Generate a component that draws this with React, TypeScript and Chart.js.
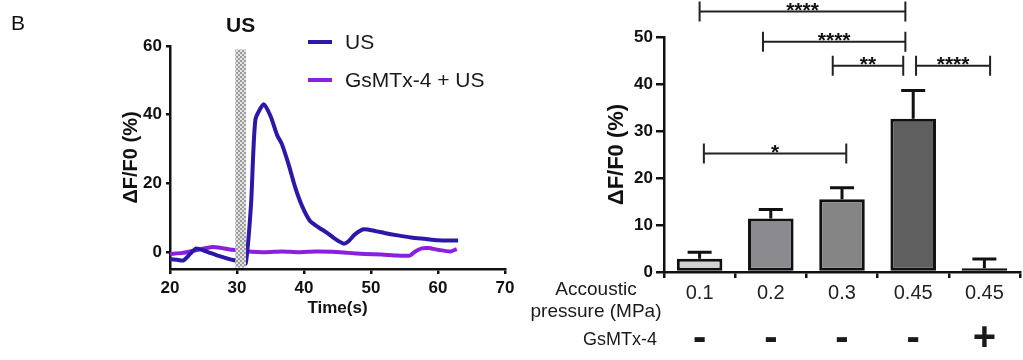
import React, { useEffect, useRef } from 'react';
import { Chart, registerables } from 'chart.js';
Chart.register(...registerables);

const FONT = "'Liberation Sans', Arial, Helvetica, sans-serif";

// ---------- Left panel: time course ----------
const seriesNames = ['US', 'GsMTx-4 + US'];
const seriesColors = ['#2a18a8', '#8a1fe0'];
const timeUS = [20, 21, 22, 23, 23.9, 25, 26, 27, 28, 29, 29.7, 30.5, 31.3, 32.1, 32.75, 34, 35, 36, 36.7, 37.7, 38.7, 39.7, 40.9, 42.2, 43.4, 44.7, 45.9, 46.6, 47.6, 48.9, 50.6, 52, 54, 56, 58, 60, 62, 63];
const valuesUS = [-2.1, -2.3, -2.5, -0.6, 1.0, 0.4, -0.3, -1.0, -1.6, -2.2, -2.5, -2.9, -3.4, 14, 38.6, 43, 39.6, 34, 31.4, 25.5, 18.7, 13.4, 9, 7.1, 5.6, 3.7, 2.4, 3.0, 5.1, 6.6, 6.1, 5.5, 4.8, 4.2, 3.8, 3.4, 3.3, 3.3];
const timeGs = [20, 21.9, 24, 26.3, 27.5, 29.3, 31.3, 34.2, 36.7, 39.2, 41.7, 44.2, 46.6, 49.1, 51.6, 54.1, 55.8, 56.6, 57.6, 58.6, 60, 61.8, 62.8];
const valuesGs = [-0.6, -0.3, 0.5, 1.4, 1.2, 0.6, 0.2, -0.1, 0.1, -0.1, 0.1, 0.0, -0.3, -0.6, -0.8, -1.1, -1.1, 0.1, 1.0, 1.1, 0.6, 0.1, 0.8];
const timeTicks = [20, 30, 40, 50, 60, 70];
const lineYTicks = [0, 20, 40, 60];
const stimulusX = [29.75, 31.35];
const stimulusY = [-4.6, 59];
const stimulusLabel = 'US';
const panelLetter = 'B';

// ---------- Right panel: bars ----------
const pressureLabels = ['0.1', '0.2', '0.3', '0.45', '0.45'];
const gsmtxFlags = ['-', '-', '-', '-', '+'];
const meanValues = [2.8, 11.4, 15.5, 32.6, 0.8];
const semUpper = [4.2, 13.3, 17.9, 38.6, 2.75];
const barColors = ['#d2d2d2', '#8b8a8f', '#858585', '#5f5f5f', '#1a1a1a'];
const barYTicks = [0, 10, 20, 30, 40, 50];
const bracketFrom = [0, 0.89, 1.87, 3.04, 0.06];
const bracketTo = [2.89, 2.89, 2.86, 4.08, 2.06];
const bracketY = [55.4, 49.0, 43.9, 43.9, 25.2];
const bracketStars = ['****', '****', '**', '****', '*'];

const axisColor = '#111';

function makePattern(ctx: CanvasRenderingContext2D) {
  const c = document.createElement('canvas');
  c.width = 4; c.height = 4;
  const g = c.getContext('2d')!;
  g.fillStyle = '#e2e2e2'; g.fillRect(0, 0, 4, 4);
  g.fillStyle = '#9c9c9c'; g.fillRect(0, 0, 2, 2); g.fillRect(2, 2, 2, 2);
  return ctx.createPattern(c, 'repeat');
}

const stimulusPlugin = {
  id: 'stimulus',
  afterDatasetsDraw(chart: any) {
    const { ctx, scales: { x, y } } = chart;
    const x1 = x.getPixelForValue(stimulusX[0]);
    const x2 = x.getPixelForValue(stimulusX[1]);
    const y1 = y.getPixelForValue(stimulusY[1]);
    const y2 = y.getPixelForValue(stimulusY[0]);
    ctx.save();
    ctx.fillStyle = makePattern(ctx) || '#bbb';
    ctx.fillRect(x1, y1, x2 - x1, y2 - y1);
    ctx.fillStyle = '#111';
    ctx.font = `bold 21px ${FONT}`;
    ctx.textAlign = 'center';
    ctx.textBaseline = 'alphabetic';
    ctx.fillText(stimulusLabel, (x1 + x2) / 2, 32);
    ctx.restore();
  },
  afterDraw(chart: any) {
    const { ctx } = chart;
    ctx.save();
    ctx.fillStyle = '#111';
    ctx.font = `21px ${FONT}`;
    ctx.textAlign = 'left';
    ctx.textBaseline = 'alphabetic';
    ctx.fillText(panelLetter, 11, 30);
    const rows = [42, 80];
    chart.data.datasets.forEach((ds: any, i: number) => {
      ctx.strokeStyle = ds.borderColor;
      ctx.lineWidth = 4;
      ctx.beginPath();
      ctx.moveTo(308, rows[i]);
      ctx.lineTo(332, rows[i]);
      ctx.stroke();
      ctx.fillStyle = '#1a1a1a';
      ctx.font = `21px ${FONT}`;
      ctx.textBaseline = 'middle';
      ctx.fillText(ds.label, 345, rows[i] + 1);
    });
    ctx.restore();
  },
};

const errorBarPlugin = {
  id: 'errorBars',
  afterDatasetsDraw(chart: any) {
    const { ctx, scales: { y } } = chart;
    const meta = chart.getDatasetMeta(0);
    ctx.save();
    ctx.strokeStyle = '#111';
    ctx.lineWidth = 3;
    meta.data.forEach((bar: any, i: number) => {
      const x = bar.x;
      const yTop = y.getPixelForValue(semUpper[i]);
      const yBase = y.getPixelForValue(meanValues[i]);
      ctx.beginPath();
      ctx.moveTo(x, yBase);
      ctx.lineTo(x, yTop);
      ctx.moveTo(x - 12, yTop);
      ctx.lineTo(x + 12, yTop);
      ctx.stroke();
    });
    ctx.restore();
  },
  afterDraw(chart: any) {
    const { ctx, scales: { x, y } } = chart;
    ctx.save();
    ctx.strokeStyle = '#222';
    ctx.lineWidth = 2;
    ctx.fillStyle = '#111';
    ctx.font = `bold 21px ${FONT}`;
    ctx.textAlign = 'center';
    ctx.textBaseline = 'alphabetic';
    bracketFrom.forEach((f, i) => {
      const x1 = x.getPixelForValue(f);
      const x2 = x.getPixelForValue(bracketTo[i]);
      const yy = y.getPixelForValue(bracketY[i]);
      ctx.beginPath();
      ctx.moveTo(x1, yy); ctx.lineTo(x2, yy);
      ctx.moveTo(x1, yy - 10); ctx.lineTo(x1, yy + 10);
      ctx.moveTo(x2, yy - 10); ctx.lineTo(x2, yy + 10);
      ctx.stroke();
      ctx.fillText(bracketStars[i], (x1 + x2) / 2, yy + 5);
    });
    ctx.fillStyle = '#1a1a1a';
    ctx.font = `19px ${FONT}`;
    ctx.textAlign = 'center';
    ctx.textBaseline = 'middle';
    ctx.fillText('Accoustic', 86, 290);
    ctx.fillText('pressure (MPa)', 86, 312);
    ctx.font = `18px ${FONT}`;
    ctx.textAlign = 'right';
    ctx.fillText('GsMTx-4', 147, 340);
    ctx.font = `bold 40px ${FONT}`;
    ctx.textAlign = 'center';
    ctx.textBaseline = 'alphabetic';
    gsmtxFlags.forEach((s, i) => {
      ctx.fillText(s, x.getPixelForValue(i), 350);
    });
    ctx.restore();
  },
};

export default function App() {
  const lineRef = useRef<HTMLCanvasElement>(null);
  const barRef = useRef<HTMLCanvasElement>(null);

  useEffect(() => {
    document.body.style.margin = '0';
    Chart.defaults.font.family = FONT;
    const lineChart = new Chart(lineRef.current!, {
      type: 'line',
      data: {
        datasets: [
          {
            label: seriesNames[0],
            data: timeUS.map((t, i) => ({ x: t, y: valuesUS[i] })),
            borderColor: seriesColors[0],
            borderWidth: 4,
            pointRadius: 0,
            tension: 0.2,
            fill: false,
          },
          {
            label: seriesNames[1],
            data: timeGs.map((t, i) => ({ x: t, y: valuesGs[i] })),
            borderColor: seriesColors[1],
            borderWidth: 4,
            pointRadius: 0,
            tension: 0.2,
            fill: false,
          },
        ],
      },
      options: {
        responsive: false,
        animation: false,
        layout: { padding: { left: 0, right: 15, top: 46, bottom: 0 } },
        plugins: { legend: { display: false }, tooltip: { enabled: false } },
        scales: {
          x: {
            type: 'linear',
            min: 20,
            max: 70,
            afterBuildTicks: (s: any) => { s.ticks = timeTicks.map((v) => ({ value: v })); },
            afterFit: (s: any) => { s.height = 51; },
            grid: { drawOnChartArea: false, tickLength: 5, color: axisColor, lineWidth: 2.5 },
            border: { color: axisColor, width: 2.5 },
            ticks: { font: { size: 17, weight: 'bold' }, color: '#111', padding: 4, maxRotation: 0 },
            title: { display: true, text: 'Time(s)', font: { size: 17, weight: 'bold' }, color: '#111', padding: { top: 0, bottom: 1 } },
          },
          y: {
            min: -5,
            max: 60,
            afterBuildTicks: (s: any) => { s.ticks = lineYTicks.map((v) => ({ value: v })); },
            afterFit: (s: any) => { s.width = 170; },
            grid: { drawOnChartArea: false, tickLength: 4, color: axisColor, lineWidth: 2.5 },
            border: { color: axisColor, width: 2.5 },
            ticks: { font: { size: 17, weight: 'bold' }, color: '#111', padding: 4 },
            title: { display: true, text: 'ΔF/F0 (%)', font: { size: 20, weight: 'bold' }, color: '#111', padding: { top: 119, bottom: 0 } },
          },
        },
      },
      plugins: [stimulusPlugin],
    } as any);

    const barChart = new Chart(barRef.current!, {
      type: 'bar',
      data: {
        labels: pressureLabels,
        datasets: [
          {
            data: meanValues,
            backgroundColor: barColors,
            borderColor: '#111',
            borderWidth: 3,
            borderSkipped: false,
            barPercentage: 0.64,
            categoryPercentage: 1,
          },
        ],
      },
      options: {
        responsive: false,
        animation: false,
        layout: { padding: { left: 0, right: 3, top: 37, bottom: 0 } },
        plugins: { legend: { display: false }, tooltip: { enabled: false } },
        scales: {
          x: {
            afterFit: (s: any) => { s.height = 88; },
            grid: { drawOnChartArea: false, tickLength: 6, color: axisColor, lineWidth: 2.5 },
            border: { color: axisColor, width: 2.5 },
            ticks: { font: { size: 20 }, color: '#222', padding: 3, maxRotation: 0 },
          },
          y: {
            min: 0,
            max: 50,
            afterBuildTicks: (s: any) => { s.ticks = barYTicks.map((v) => ({ value: v })); },
            afterFit: (s: any) => { s.width = 154; },
            grid: { drawOnChartArea: false, tickLength: 8, color: axisColor, lineWidth: 2.5 },
            border: { color: axisColor, width: 2.5 },
            ticks: { font: { size: 17, weight: 'bold' }, color: '#111', padding: 3 },
            title: { display: true, text: 'ΔF/F0 (%)', font: { size: 22, weight: 'bold' }, color: '#111', padding: { top: 94, bottom: 0 } },
          },
        },
      },
      plugins: [errorBarPlugin],
    } as any);

    return () => {
      lineChart.destroy();
      barChart.destroy();
    };
  }, []);

  return (
    <div style={{ position: 'relative', width: 1023, height: 360, background: '#fff', overflow: 'hidden' }}>
      <canvas ref={lineRef} width={520} height={320} style={{ position: 'absolute', left: 0, top: 0 }} />
      <canvas ref={barRef} width={513} height={360} style={{ position: 'absolute', left: 510, top: 0 }} />
    </div>
  );
}
